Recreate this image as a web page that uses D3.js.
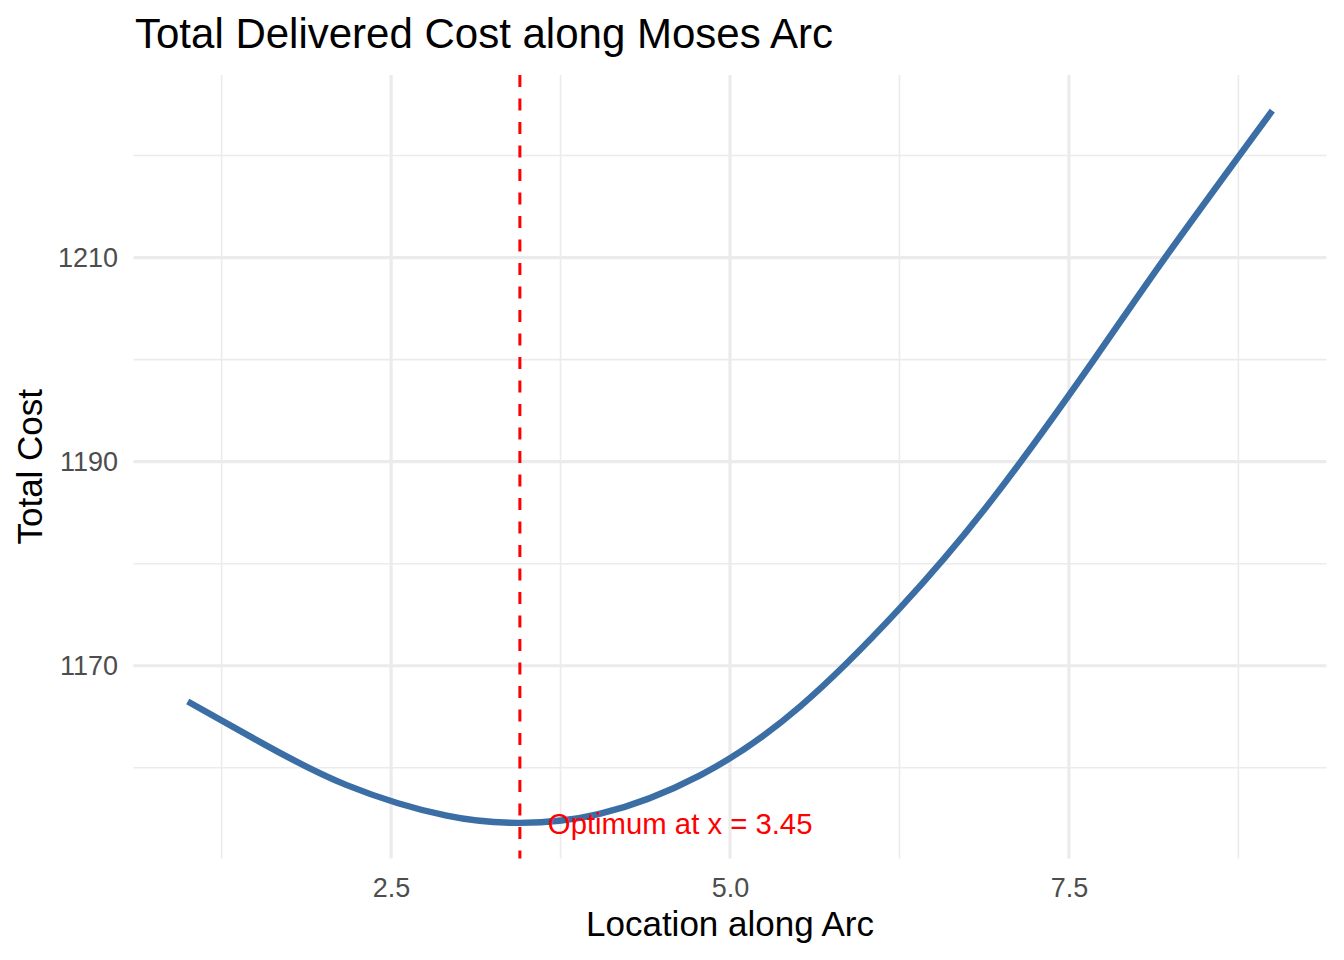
<!DOCTYPE html>
<html>
<head>
<meta charset="utf-8">
<script src="https://cdn.jsdelivr.net/npm/d3@7"></script>
<style>
  body { margin: 0; background: #fff; }
  svg text { font-family: "Liberation Sans", Arial, Helvetica, sans-serif; }
</style>
</head>
<body>
<svg id="chart" width="1344" height="960"></svg>
<script>
// values
var locations = [1.0, 1.545, 2.173, 2.91, 3.45, 4.03, 4.779, 5.516, 6.25, 6.94, 7.685, 8.21, 9.0];
var totalCost = [1166.5, 1162.44, 1158.3, 1155.3, 1154.6, 1155.45, 1159.26, 1166.0, 1175.6, 1186.4, 1200.0, 1210.0, 1224.4];
var xTicks = [2.5, 5.0, 7.5];
var xMinor = [1.25, 3.75, 6.25, 8.75];
var yTicks = [1170, 1190, 1210];
var yMinor = [1160, 1180, 1200, 1220];
var optimumX = 3.45;
var optimumLabel = 'Optimum at x = 3.45';

var margin = { top: 75, right: 17.5, bottom: 101.5, left: 133.5 };
var width = 1344 - margin.left - margin.right;
var height = 960 - margin.top - margin.bottom;

var data = locations.map(function(d, i) { return { x: d, y: totalCost[i] }; });

// ggplot style 5% expansion
function expand(ext) {
  var pad = (ext[1] - ext[0]) * 0.05;
  return [ext[0] - pad, ext[1] + pad];
}

var x = d3.scaleLinear()
    .domain(expand(d3.extent(locations)))
    .range([0, width]);

var y = d3.scaleLinear()
    .domain(expand(d3.extent(totalCost)))
    .range([height, 0]);

var svg = d3.select('#chart');

svg.append('text')
    .attr('x', 135)
    .attr('y', 48)
    .attr('font-size', 42)
    .attr('fill', '#000')
    .text('Total Delivered Cost along Moses Arc');

var g = svg.append('g')
    .attr('transform', 'translate(' + margin.left + ',' + margin.top + ')');

// grid
g.selectAll('.xminor').data(xMinor).enter().append('line')
    .attr('x1', function(d) { return x(d); }).attr('x2', function(d) { return x(d); })
    .attr('y1', 0).attr('y2', height)
    .attr('stroke', '#EBEBEB').attr('stroke-width', 1.6);

g.selectAll('.yminor').data(yMinor).enter().append('line')
    .attr('y1', function(d) { return y(d); }).attr('y2', function(d) { return y(d); })
    .attr('x1', 0).attr('x2', width)
    .attr('stroke', '#EBEBEB').attr('stroke-width', 1.6);

g.selectAll('.xmajor').data(xTicks).enter().append('line')
    .attr('x1', function(d) { return x(d); }).attr('x2', function(d) { return x(d); })
    .attr('y1', 0).attr('y2', height)
    .attr('stroke', '#EBEBEB').attr('stroke-width', 3.2);

g.selectAll('.ymajor').data(yTicks).enter().append('line')
    .attr('y1', function(d) { return y(d); }).attr('y2', function(d) { return y(d); })
    .attr('x1', 0).attr('x2', width)
    .attr('stroke', '#EBEBEB').attr('stroke-width', 3.2);

// axes (text only, like theme_minimal)
var xAxis = g.append('g')
    .attr('transform', 'translate(0,' + height + ')')
    .call(d3.axisBottom(x).tickValues(xTicks).tickFormat(d3.format('.1f')).tickSize(0).tickPadding(19));
xAxis.select('.domain').remove();
xAxis.selectAll('text')
    .attr('font-size', 27)
    .attr('fill', '#4D4D4D')
    .style('font-family', '"Liberation Sans", Arial, sans-serif');

var yAxis = g.append('g')
    .call(d3.axisLeft(y).tickValues(yTicks).tickFormat(d3.format('d')).tickSize(0).tickPadding(15.5));
yAxis.select('.domain').remove();
yAxis.selectAll('text')
    .attr('font-size', 27)
    .attr('fill', '#4D4D4D')
    .style('font-family', '"Liberation Sans", Arial, sans-serif');

// curve
var line = d3.line()
    .x(function(d) { return x(d.x); })
    .y(function(d) { return y(d.y); })
    .curve(d3.curveNatural);

g.append('path')
    .datum(data)
    .attr('d', line)
    .attr('fill', 'none')
    .attr('stroke', '#3A6EA5')
    .attr('stroke-width', 6.4);

// optimum marker
g.append('line')
    .attr('x1', x(optimumX)).attr('x2', x(optimumX))
    .attr('y1', 0).attr('y2', height)
    .attr('stroke', '#FF0000')
    .attr('stroke-width', 3)
    .attr('stroke-dasharray', '12,11.5');

g.append('text')
    .attr('x', x(optimumX) + 28)
    .attr('y', y(d3.min(totalCost)))
    .attr('dy', '0.38em')
    .attr('font-size', 29.3)
    .attr('fill', '#FF0000')
    .text(optimumLabel);

// axis titles
svg.append('text')
    .attr('x', margin.left + width / 2)
    .attr('y', 936)
    .attr('text-anchor', 'middle')
    .attr('font-size', 35)
    .attr('fill', '#000')
    .text('Location along Arc');

svg.append('text')
    .attr('transform', 'translate(42,' + (margin.top + height / 2) + ') rotate(-90)')
    .attr('text-anchor', 'middle')
    .attr('font-size', 35)
    .attr('fill', '#000')
    .text('Total Cost');
</script>
</body>
</html>
